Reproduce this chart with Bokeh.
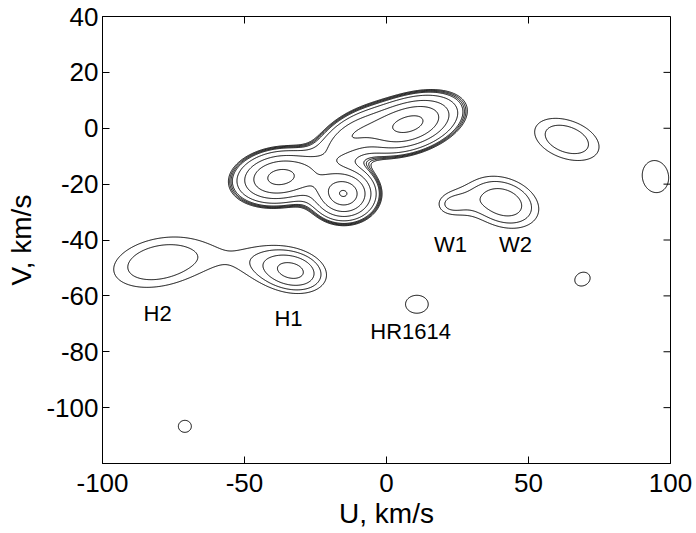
import numpy as np
from bokeh.plotting import figure
from bokeh.models import Range1d, FixedTicker, ColumnDataSource
from bokeh.core.properties import value
from bokeh.embed import file_html
from bokeh.resources import INLINE

# ---- data ----
# velocity-distribution components (group, U, V, sigma_U, sigma_V, angle deg, amplitude)
COMP_GROUP = ["main", "main", "main", "main", "H", "H", "W", "W", "E", "F", "G", "HR", "S"]
COMP_U     = [-37.5, -15.0, 8.0, -14.0, -80.0, -31.0, 41.0, 20.0, 63.5, 94.7, 69.0, 10.7, -71.0]
COMP_V     = [-17.5, -23.5, 1.5, -3.5, -48.0, -52.0, -26.5, -28.0, -4.0, -17.3, -54.0, -63.0, -106.7]
COMP_SU    = [9.3, 6.6, 10.8, 9.0, 27.0, 14.1, 18.0, 6.0, 20.0, 13.5, 8.2, 11.7, 6.7]
COMP_SV    = [5.6, 5.6, 5.6, 4.6, 14.0, 9.5, 12.0, 5.0, 11.5, 16.9, 6.9, 9.4, 6.3]
COMP_ANG   = [8.0, 0.0, 18.0, 35.0, 12.0, -10.0, -20.0, 0.0, -20.0, 10.0, 30.0, 0.0, 0.0]
COMP_AMP   = [6.9, 7.9, 6.9, 3.2, 1.2, 1.2, 1.3, 0.5, 1.19, 1.06, 1.06, 1.06, 1.06]

LEVELS = [1.0, 1.1, 1.21, 1.33, 1.8, 2.8, 4.2, 6.2, 7.9]

LABEL_TEXT = ["H2", "H1", "HR1614", "W1", "W2"]
LABEL_U = [-80.6, -34.5, 8.5, 22.5, 45.4]
LABEL_V = [-66.3, -68.1, -72.7, -41.6, -41.6]

X_TICKS = [-100, -50, 0, 50, 100]
Y_TICKS = [-100, -80, -60, -40, -20, 0, 20, 40]

# ---- density field ----
u = np.linspace(-100, 100, 801)
v = np.linspace(-120, 40, 641)
UU, VV = np.meshgrid(u, v)
groups = {}
for g, cu, cv, su, sv, ang, amp in zip(COMP_GROUP, COMP_U, COMP_V, COMP_SU, COMP_SV, COMP_ANG, COMP_AMP):
    th = np.deg2rad(ang)
    du = UU - cu
    dv = VV - cv
    a = du * np.cos(th) + dv * np.sin(th)
    b = -du * np.sin(th) + dv * np.cos(th)
    val = amp * np.exp(-0.5 * ((a / su) ** 2 + (b / sv) ** 2))
    groups[g] = groups.get(g, 0) + val
Z = np.maximum.reduce(list(groups.values()))

FONT = "Liberation Sans"

p = figure(width=696, height=533, output_backend="svg", toolbar_location=None,
           x_range=Range1d(-100, 100), y_range=Range1d(-120, 40),
           min_border_left=102, min_border_right=26, min_border_top=16, min_border_bottom=70)
p.background_fill_color = "white"
p.border_fill_color = "white"
p.outline_line_color = "black"
p.outline_line_width = 1
p.xgrid.visible = False
p.ygrid.visible = False

p.contour(x=u, y=v, z=Z, levels=LEVELS, line_color="black", line_width=1)

src = ColumnDataSource(dict(x=LABEL_U, y=LABEL_V, t=LABEL_TEXT))
p.text(x="x", y="y", text="t", source=src, text_font=value(FONT), text_font_size="22px",
       text_align="center", text_baseline="middle", text_color="black")

# inward ticks on the top and right sides of the box
p.ray(x=X_TICKS, y=[40] * len(X_TICKS), length=7, length_units="screen",
      angle=-np.pi / 2, line_color="black", line_width=1)
p.ray(x=[100] * len(Y_TICKS), y=Y_TICKS, length=7, length_units="screen",
      angle=np.pi, line_color="black", line_width=1)

for ax, ticks in ((p.xaxis[0], X_TICKS), (p.yaxis[0], Y_TICKS)):
    ax.ticker = FixedTicker(ticks=ticks)
    ax.major_label_overrides = {t: str(t) for t in ticks}
    ax.major_tick_in = 7
    ax.major_tick_out = 0
    ax.minor_tick_in = 0
    ax.minor_tick_out = 0
    ax.major_label_text_font = FONT
    ax.major_label_text_font_size = "26px"
    ax.major_label_text_color = "black"
    ax.axis_line_color = "black"
    ax.major_tick_line_color = "black"
    ax.axis_label_text_font = FONT
    ax.axis_label_text_font_size = "28px"
    ax.axis_label_text_font_style = "normal"
    ax.axis_label_text_color = "black"
p.xaxis[0].axis_label = "U, km/s"
p.yaxis[0].axis_label = "V, km/s"
p.xaxis[0].major_label_standoff = 10
p.yaxis[0].major_label_standoff = 4
p.xaxis[0].axis_label_standoff = 3
p.yaxis[0].axis_label_standoff = 6

open("out.html", "w").write(file_html(p, INLINE))
